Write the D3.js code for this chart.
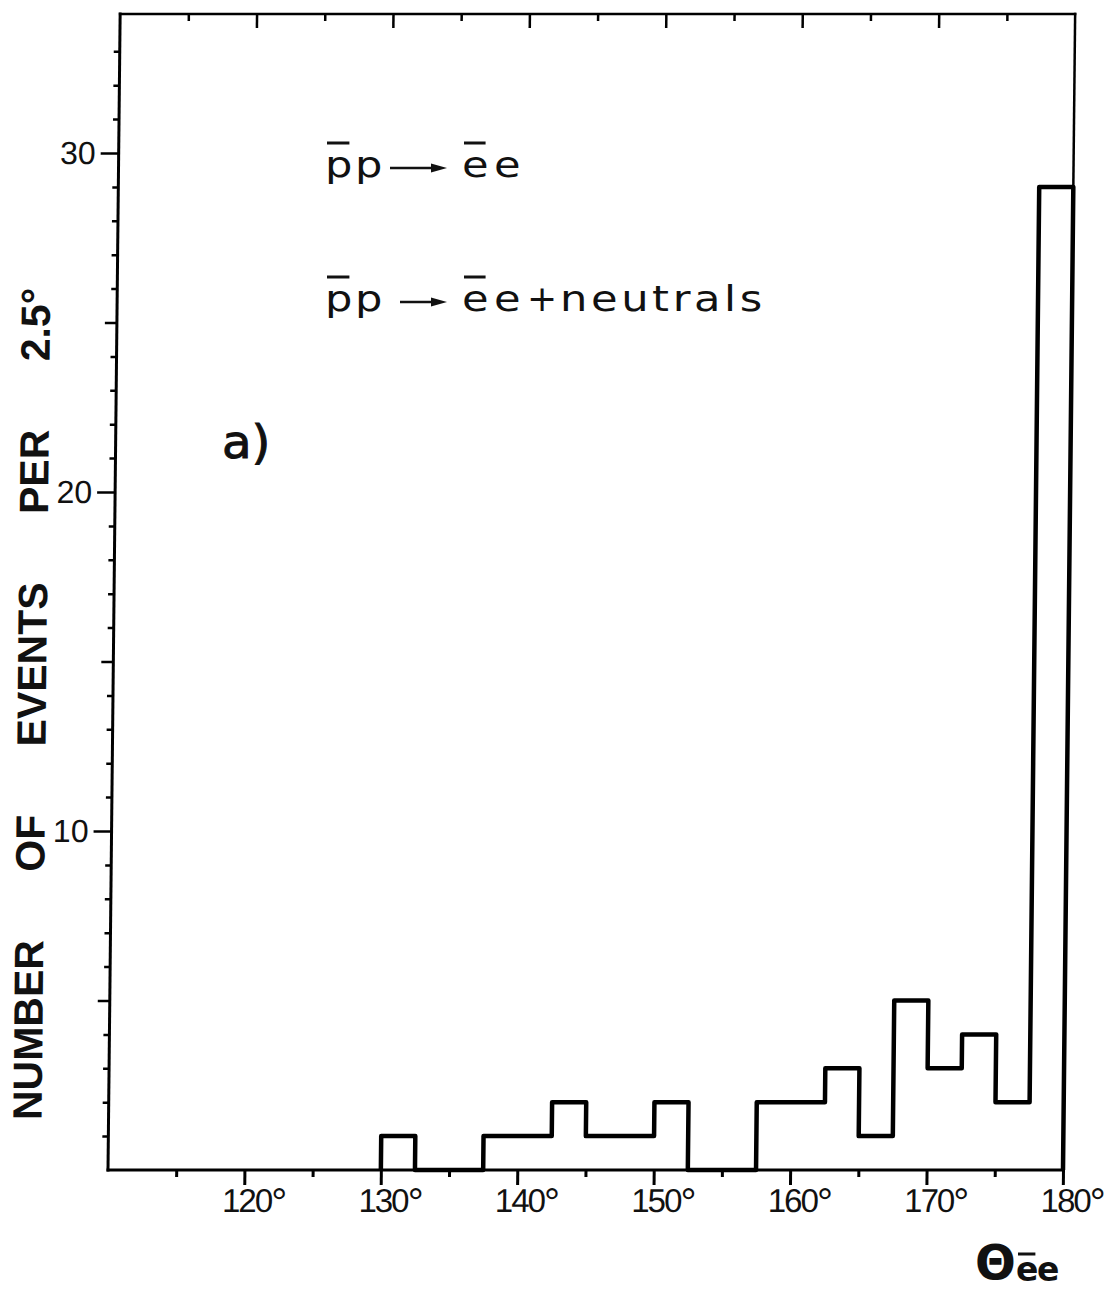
<!DOCTYPE html>
<html lang="en">
<head>
  <meta charset="UTF-8" />
  <title>Opening angle of the ee pair</title>
  <style>
    body {
      margin: 0;
      background-color: white;
    }

    svg {
      display: block;
    }

    .tick line {
      stroke: #000;
    }

    .tick text {
      font-family: "Liberation Sans", Arial, sans-serif;
      fill: #111;
    }

    .note {
      font-family: "DejaVu Sans", sans-serif;
      fill: #111;
    }
  </style>
</head>
<body>
  <svg width="1113" height="1292"></svg>

  <script src="https://d3js.org/d3.v7.min.js"></script>
  <script>
    // lower edge of each 2.5 degree bin and the number of events in it
    const binLow = [130, 132.5, 135, 137.5, 140, 142.5, 145, 147.5, 150, 152.5,
                    155, 157.5, 160, 162.5, 165, 167.5, 170, 172.5, 175, 177.5];
    const counts = [1, 0, 0, 1, 1, 2, 1, 1, 2, 0, 0, 2, 2, 3, 1, 5, 3, 4, 2, 29];
    const binWidth = 2.5;

    const xMajor = [120, 130, 140, 150, 160, 170, 180];
    const xMinor = [115, 125, 135, 145, 155, 165, 175];
    const yMajor = [10, 20, 30];
    const yMid = [5, 15, 25];
    const yMinor = [1, 2, 3, 4, 6, 7, 8, 9, 11, 12, 13, 14, 16, 17, 18, 19,
                    21, 22, 23, 24, 26, 27, 28, 29, 31, 32, 33];

    const x = d3.scaleLinear().domain([110, 180]).range([108, 1063]);
    const y = d3.scaleLinear().domain([0, 34.1]).range([1170, 14]);

    const svg = d3.select("svg");

    // the scanned original leans a little to the right
    const lean = 0.0105;
    const chart = svg.append("g")
      .attr("transform", `matrix(1,0,${-lean},1,${lean * y(0)},0)`);

    const noDomain = g => g.select(".domain").remove();

    // bottom axis
    chart.append("g")
      .attr("transform", `translate(0,${y(0)})`)
      .call(d3.axisBottom(x).tickValues(xMinor).tickSize(7).tickFormat(""))
      .call(noDomain)
      .selectAll("line").attr("stroke-width", 3);

    const bottom = chart.append("g")
      .attr("transform", `translate(0,${y(0)})`)
      .call(d3.axisBottom(x).tickValues(xMajor).tickSize(15).tickPadding(4).tickFormat(d => d))
      .call(noDomain);
    bottom.selectAll("line").attr("stroke-width", 3);
    bottom.selectAll("text")
      .attr("font-size", 33)
      .attr("letter-spacing", "-2px")
      .attr("dx", 9)
      .append("tspan")
        .attr("font-size", 40)
        .attr("dy", 4)
        .text("°");

    // top edge ticks point inwards
    chart.append("g")
      .attr("transform", `translate(0,${y(34.1)})`)
      .call(d3.axisBottom(x).tickValues(xMinor).tickSize(7).tickFormat(""))
      .call(noDomain)
      .selectAll("line").attr("stroke-width", 2.5);
    chart.append("g")
      .attr("transform", `translate(0,${y(34.1)})`)
      .call(d3.axisBottom(x).tickValues(xMajor.filter(d => d < 180)).tickSize(14).tickFormat(""))
      .call(noDomain)
      .selectAll("line").attr("stroke-width", 2.5);

    // left axis
    chart.append("g")
      .attr("transform", `translate(${x(110)},0)`)
      .call(d3.axisLeft(y).tickValues(yMinor).tickSize(6).tickFormat(""))
      .call(noDomain)
      .selectAll("line").attr("stroke-width", 2.5);
    chart.append("g")
      .attr("transform", `translate(${x(110)},0)`)
      .call(d3.axisLeft(y).tickValues(yMid).tickSize(12).tickFormat(""))
      .call(noDomain)
      .selectAll("line").attr("stroke-width", 2.5);
    const left = chart.append("g")
      .attr("transform", `translate(${x(110)},0)`)
      .call(d3.axisLeft(y).tickValues(yMajor).tickSize(18).tickPadding(5))
      .call(noDomain);
    left.selectAll("line").attr("stroke-width", 2.5);
    left.selectAll("text").attr("font-size", 32);

    // frame
    const frame = [
      { x1: 110, y1: 0, x2: 110, y2: 34.1, w: 3 },
      { x1: 110, y1: 0, x2: 180, y2: 0, w: 3 },
      { x1: 110, y1: 34.1, x2: 180, y2: 34.1, w: 2.5 },
      { x1: 180, y1: 0, x2: 180, y2: 34.1, w: 2.5 }
    ];
    chart.selectAll("line.frame")
      .data(frame)
      .join("line")
        .attr("class", "frame")
        .attr("x1", d => x(d.x1))
        .attr("y1", d => y(d.y1))
        .attr("x2", d => x(d.x2))
        .attr("y2", d => y(d.y2))
        .attr("stroke", "#000")
        .attr("stroke-width", d => d.w)
        .attr("stroke-linecap", "square");

    // histogram outline
    const pts = [[binLow[0], 0]];
    binLow.forEach((b, i) => {
      pts.push([b, counts[i]], [b + binWidth, counts[i]]);
    });
    pts.push([binLow[binLow.length - 1] + binWidth, 0]);

    chart.append("path")
      .datum(pts)
      .attr("d", d3.line().x(d => x(d[0])).y(d => y(d[1])))
      .attr("fill", "none")
      .attr("stroke", "#000")
      .attr("stroke-width", 4.5)
      .attr("stroke-linejoin", "round");

    // y axis title
    chart.append("text")
      .attr("transform", "translate(41,704) rotate(-90)")
      .attr("text-anchor", "middle")
      .style("font-family", "'Liberation Sans', Arial, sans-serif")
      .style("font-weight", "bold")
      .style("font-size", "41px")
      .style("word-spacing", "57px")
      .attr("fill", "#111")
      .text("NUMBER OF EVENTS PER 2.5°");

    // reaction labels
    const sx = 1.2;
    function piece(str, px, base, size, bar, opts = {}) {
      const t = svg.append("text")
        .attr("class", "note")
        .attr("transform", `translate(${px},${base}) scale(${opts.sx || sx},1)`)
        .attr("font-size", size)
        .attr("letter-spacing", opts.ls || 0)
        .attr("font-weight", opts.weight || "normal")
        .text(str);
      if (bar) {
        const len = t.node().getComputedTextLength() * (opts.sx || sx);
        svg.append("line")
          .attr("x1", px + 2)
          .attr("x2", px + len - 3)
          .attr("y1", base - bar)
          .attr("y2", base - bar)
          .attr("stroke", "#111")
          .attr("stroke-width", 3);
      }
      return t;
    }

    function arrow(x0, x1, yy) {
      svg.append("line")
        .attr("x1", x0).attr("x2", x1 - 10)
        .attr("y1", yy).attr("y2", yy)
        .attr("stroke", "#111")
        .attr("stroke-width", 2.5);
      svg.append("path")
        .attr("d", `M${x1 - 16},${yy - 4.5}L${x1},${yy}L${x1 - 16},${yy + 4.5}Z`)
        .attr("fill", "#111");
    }

    const line1 = 177;
    piece("p", 325, line1, 36, 34);
    piece("p", 355, line1, 36, 0);
    arrow(390, 447, line1 - 9);
    piece("e", 462, line1, 36, 34);
    piece("e", 494, line1, 36, 0);

    const line2 = 311;
    piece("p", 325, line2, 36, 34);
    piece("p", 355, line2, 36, 0);
    arrow(400, 447, line2 - 9);
    piece("e", 462, line2, 36, 34);
    piece("e", 494, line2, 36, 0);
    piece("+", 527, line2, 36, 0, { sx: 1 });
    piece("neutrals", 560, line2, 36, 0, { ls: 3 });

    piece("a)", 222, 458, 46, 0, { sx: 1.05 })
      .attr("stroke", "#111").attr("stroke-width", 1);

    // x axis title
    piece("Θ", 975, 1279, 48, 0, { sx: 1, weight: "bold" });
    piece("e", 1016, 1281, 33, 27, { sx: 1, weight: "bold" });
    piece("e", 1037, 1281, 33, 0, { sx: 1, weight: "bold" });
  </script>
</body>
</html>
